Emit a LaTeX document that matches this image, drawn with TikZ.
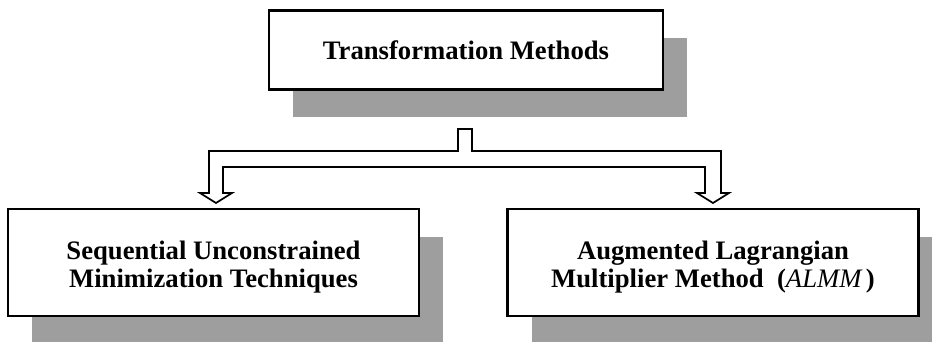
\documentclass[tikz,border=0pt]{standalone}
\usepackage{fontspec}
\setmainfont{Liberation Serif}
\usetikzlibrary{shadows}
\newcommand{\lowered}[2]{\raisebox{-#1}[\height][\depth]{\begin{tabular}{@{}c@{}}#2\end{tabular}}}
\begin{document}
\begin{tikzpicture}[x=0.75pt,y=-0.75pt,
  box/.style={draw=black, line width=2.2pt, fill=white, align=center, inner sep=0pt,
    font=\fontsize{20}{21}\selectfont\bfseries,
    drop shadow={shadow xshift=18pt, shadow yshift=-21pt, fill=black!38, opacity=1}},
  topbox/.style={box, minimum width={394*0.75pt}, minimum height={79*0.75pt}},
  lowbox/.style={box, minimum width={411*0.75pt}, minimum height={107*0.75pt}},
  hollow/.style={draw=black, line width=1.3pt, line join=miter}]
\useasboundingbox (0,0) rectangle (932,342);

\node[topbox] (tm) at (466,50) {\lowered{3pt}{Transformation Methods}};
\node[lowbox] (sumt) at (213.5,262.5) {\lowered{4pt}{Sequential Unconstrained\\Minimization Techniques}};
\node[lowbox] (almm) at (713,262.5) {\lowered{4pt}{Augmented Lagrangian\\Multiplier Method~~({\mdseries\itshape ALMM}\,)}};

% hollow branching arrow
\coordinate (sl) at (458,129);
\coordinate (sr) at (472,129);
\coordinate (lt) at (216,203);
\coordinate (rt) at (713,203);
\draw[hollow] (sl) -- (458,151) -- (209,151) -- (209,193) -- (200,193) -- (lt)
  -- (232,193) -- (223,193) -- (223,167) -- (705,167) -- (705,193) -- (697,193)
  -- (rt) -- (729,193) -- (721,193) -- (721,151) -- (472,151) -- (sr) -- cycle;
\end{tikzpicture}
\end{document}
